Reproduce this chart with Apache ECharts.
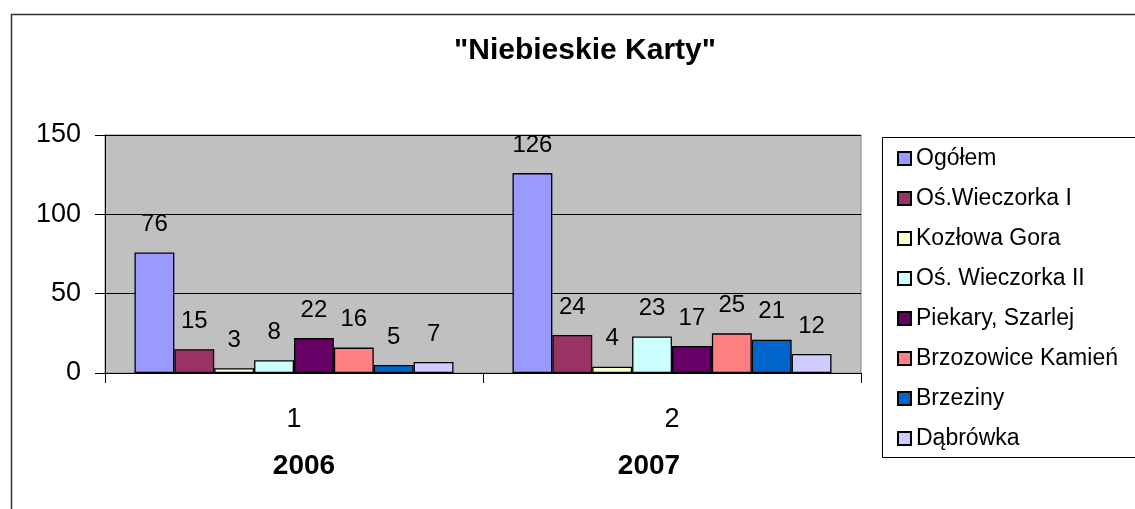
<!DOCTYPE html>
<html>
<head>
<meta charset="utf-8">
<script src="https://cdn.jsdelivr.net/npm/echarts@6/dist/echarts.min.js"></script>
<style>html,body{margin:0;padding:0;background:#fff;}#c{width:1135px;height:509px;}</style>
</head>
<body>
<div id="c"></div>
<script>
const categories = ['1', '2'];
const years = ['2006', '2007'];
const seriesNames = ['Ogółem', 'Oś.Wieczorka I', 'Kozłowa Gora', 'Oś. Wieczorka II', 'Piekary, Szarlej', 'Brzozowice Kamień', 'Brzeziny', 'Dąbrówka'];
const ogolem = [76, 126];
const wieczorkaI = [15, 24];
const kozlowaGora = [3, 4];
const wieczorkaII = [8, 23];
const piekary = [22, 17];
const brzozowice = [16, 25];
const brzeziny = [5, 21];
const dabrowka = [7, 12];
const seriesValues = [ogolem, wieczorkaI, kozlowaGora, wieczorkaII, piekary, brzozowice, brzeziny, dabrowka];
const colors = ['#9999FF', '#993366', '#FFFFCC', '#CCFFFF', '#660066', '#FF8080', '#0066CC', '#CCCCFF'];
const yTicks = [0, 50, 100, 150];

const FONT = '"Liberation Sans", Arial, sans-serif';
const chart = echarts.init(document.getElementById('c'));
chart.setOption({
  animation: false,
  backgroundColor: '#ffffff',
  textStyle: { fontFamily: FONT },
  title: {
    text: '"Niebieskie Karty"',
    left: 580, top: 31, textAlign: 'center',
    textStyle: { fontFamily: FONT, fontSize: 30, fontWeight: 'bold', color: '#000' }
  },
  graphic: [
    { type: 'rect', left: 9, top: 12, shape: { width: 1200, height: 600 }, style: { fill: 'none', stroke: '#333', lineWidth: 1.5 }, z: -1 },
    { type: 'rect', left: 882, top: 137, shape: { width: 300, height: 320 }, style: { fill: '#fff', stroke: '#000', lineWidth: 1 }, z: 0 }
  ],
  legend: {
    orient: 'vertical',
    left: 892, top: 142,
    itemWidth: 13, itemHeight: 13,
    itemGap: 17,
    icon: 'rect',
    textStyle: { fontFamily: FONT, fontSize: 23, color: '#000', lineHeight: 23 },
    data: seriesNames,
    z: 5
  },
  grid: { left: 105, top: 135, right: 274, bottom: 136, show: true, backgroundColor: '#C0C0C0', borderColor: '#808080', borderWidth: 1 },
  xAxis: {
    type: 'category',
    data: categories,
    axisLine: { lineStyle: { color: '#000', width: 1 } },
    axisTick: { show: true, length: 10, lineStyle: { color: '#000' } },
    axisLabel: {
      margin: 23,
      formatter: function (v, i) { return v + '\n{y' + i + '|' + years[i] + '}'; },
      fontFamily: FONT, fontSize: 27, color: '#000', lineHeight: 47,
      rich: {
        y0: { fontFamily: FONT, fontSize: 28, fontWeight: 'bold', color: '#000', lineHeight: 47, padding: [0, 0, 0, 20] },
        y1: { fontFamily: FONT, fontSize: 28, fontWeight: 'bold', color: '#000', lineHeight: 47, padding: [0, 46, 0, 0] }
      }
    }
  },
  yAxis: {
    type: 'value',
    min: 0, max: 150, interval: 50,
    axisLine: { show: true, lineStyle: { color: '#000' } },
    axisTick: { show: true, length: 10, lineStyle: { color: '#000' } },
    splitLine: { lineStyle: { color: '#000', width: 1 } },
    axisLabel: {
      margin: 24, fontFamily: FONT, fontSize: 27, color: '#000',
      formatter: function (v) { return yTicks.indexOf(v) >= 0 ? String(v) : ''; }
    }
  },
  series: seriesNames.map(function (name, i) {
    return {
      name: name,
      type: 'bar',
      data: seriesValues[i],
      barGap: '0%',
      barCategoryGap: '15.6%',
      itemStyle: { color: colors[i], borderColor: '#000', borderWidth: 1.3 },
      label: { show: true, position: 'top', distance: 16, fontFamily: FONT, fontSize: 24, color: '#000' }
    };
  })
});
</script>
</body>
</html>
